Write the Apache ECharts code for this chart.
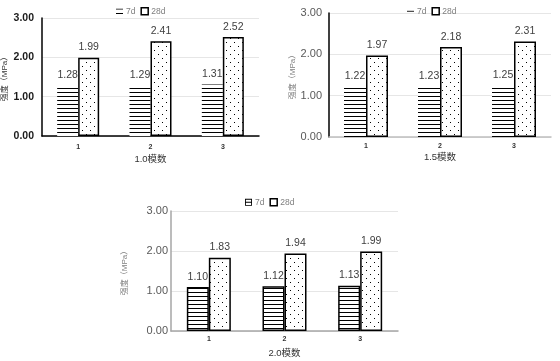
<!DOCTYPE html>
<html><head><meta charset="utf-8">
<script src="https://cdn.jsdelivr.net/npm/echarts@6/dist/echarts.min.js"></script>
<style>html,body{margin:0;padding:0;background:#fff}#c{width:560px;height:361px}</style>
</head><body><div id="c"></div>
<script>
const categories = ['1', '2', '3'];
const xNames = ['1.0模数', '1.5模数', '2.0模数'];
const yName = '强度（MPa）';
const seriesNames = ['7d', '28d'];
const yMin = 0, yMax = 3, yInterval = 1;
const c1_7d = [1.28, 1.29, 1.31];
const c1_28d = [1.99, 2.41, 2.52];
const c2_7d = [1.22, 1.23, 1.25];
const c2_28d = [1.97, 2.18, 2.31];
const c3_7d = [1.10, 1.12, 1.13];
const c3_28d = [1.83, 1.94, 1.99];

const FONT = "'Liberation Sans','Noto Sans CJK SC',sans-serif";

function stripePattern() {
  const c = document.createElement('canvas'); c.width = 4; c.height = 4;
  const x = c.getContext('2d');
  x.fillStyle = '#fff'; x.fillRect(0, 0, 4, 4);
  x.fillStyle = '#000'; x.fillRect(0, 0, 4, 1);
  return { image: c, repeat: 'repeat' };
}
function dotPattern() {
  const c = document.createElement('canvas'); c.width = 8; c.height = 8;
  const x = c.getContext('2d');
  x.fillStyle = '#fff'; x.fillRect(0, 0, 8, 8);
  x.fillStyle = '#000'; x.fillRect(2, 2, 1, 1); x.fillRect(6, 6, 1, 1);
  return { image: c, repeat: 'repeat' };
}

const panels = [
  { d7: c1_7d, d28: c1_28d, grid: { left: 42, top: 18, width: 217, height: 118 }, bw: 21,
    yLineColor: '#000', xLineColor: '#000', tickColor: '#1a1a1a', tickBold: 'bold', tickSize: 10.5, labelMargin: 8,
    nameGap: 33, nameColor: '#333', xNameGap: 19, catMargin: 8, border7: 0,
    legend: { left: 111, top: 2 }, icon7: 'path://M0,1H8V2H0Z M0,6H8V7H0Z' },
  { d7: c2_7d, d28: c2_28d, grid: { left: 329, top: 13, width: 222, height: 124 }, bw: 22,
    yLineColor: '#000', xLineColor: '#bfbfbf', tickColor: '#595959', tickBold: 'normal', tickSize: 11, labelMargin: 7,
    nameGap: 31, nameColor: '#7f7f7f', xNameGap: 16, catMargin: 6, border7: 0,
    legend: { left: 402, top: 2 }, icon7: 'path://M0,3.5H8V4.5H0Z' },
  { d7: c3_7d, d28: c3_28d, grid: { left: 171, top: 211, width: 227, height: 120 }, bw: 22,
    yLineColor: '#a6a6a6', xLineColor: '#a6a6a6', tickColor: '#595959', tickBold: 'normal', tickSize: 11, labelMargin: 3,
    nameGap: 42, nameColor: '#7f7f7f', xNameGap: 18, catMargin: 5, border7: 1.5,
    legend: { left: 240, top: 193 }, icon7: 'path://M0,0H8V8H0Z M1,1V7H7V1Z M1,3.5H7V4.5H1Z' }
];

const grids = [], xAxes = [], yAxes = [], series = [], legends = [];
panels.forEach((p, i) => {
  grids.push(p.grid);
  xAxes.push({
    type: 'category', gridIndex: i, data: categories,
    name: xNames[i], nameLocation: 'middle', nameGap: p.xNameGap,
    nameTextStyle: { fontSize: 9.5, color: '#333', fontFamily: FONT },
    axisLine: { lineStyle: { color: p.xLineColor, width: 1.5 } },
    axisTick: { show: false },
    axisLabel: { fontSize: 7, fontWeight: 'bold', color: '#333', margin: p.catMargin, fontFamily: FONT }
  });
  yAxes.push({
    type: 'value', gridIndex: i, min: yMin, max: yMax, interval: yInterval,
    name: yName, nameLocation: 'middle', nameGap: p.nameGap,
    nameTextStyle: { fontSize: 8, color: p.nameColor, fontFamily: FONT },
    axisLine: { show: true, lineStyle: { color: p.yLineColor, width: 1.5 } },
    axisTick: { show: false },
    splitLine: { lineStyle: { color: '#e6e6e6', width: 1 } },
    axisLabel: { fontSize: p.tickSize, color: p.tickColor, fontWeight: p.tickBold, margin: p.labelMargin,
      fontFamily: FONT, formatter: v => v.toFixed(2) }
  });
  const lbl = { show: true, position: 'top', distance: 5, fontSize: 10.5, color: '#404040', fontFamily: FONT,
    formatter: o => Number(o.value).toFixed(2) };
  series.push({
    type: 'bar', name: seriesNames[0], xAxisIndex: i, yAxisIndex: i, data: p.d7,
    barWidth: p.bw, barGap: '0%',
    itemStyle: { color: stripePattern(), borderColor: '#000', borderWidth: p.border7 },
    label: lbl
  });
  series.push({
    type: 'bar', name: seriesNames[1], xAxisIndex: i, yAxisIndex: i, data: p.d28,
    barWidth: p.bw, barGap: '0%',
    itemStyle: { color: dotPattern(), borderColor: '#000', borderWidth: 1.5 },
    label: lbl
  });
  legends.push({
    left: p.legend.left, top: p.legend.top, itemWidth: 7, itemHeight: 7, itemGap: 5,
    textStyle: { fontSize: 8.5, color: '#7f7f7f', fontFamily: FONT, padding: [0, 0, 0, -2] },
    data: [
      { name: seriesNames[0], icon: p.icon7, itemStyle: { color: '#000', borderWidth: 0 } },
      { name: seriesNames[1], icon: 'rect', itemStyle: { color: '#fff', borderColor: '#000', borderWidth: 1.5 } }
    ]
  });
});

const chart = echarts.init(document.getElementById('c'), null, { renderer: 'canvas' });
chart.setOption({
  animation: false, backgroundColor: '#fff',
  grid: grids, xAxis: xAxes, yAxis: yAxes, legend: legends, series: series
});
</script></body></html>
